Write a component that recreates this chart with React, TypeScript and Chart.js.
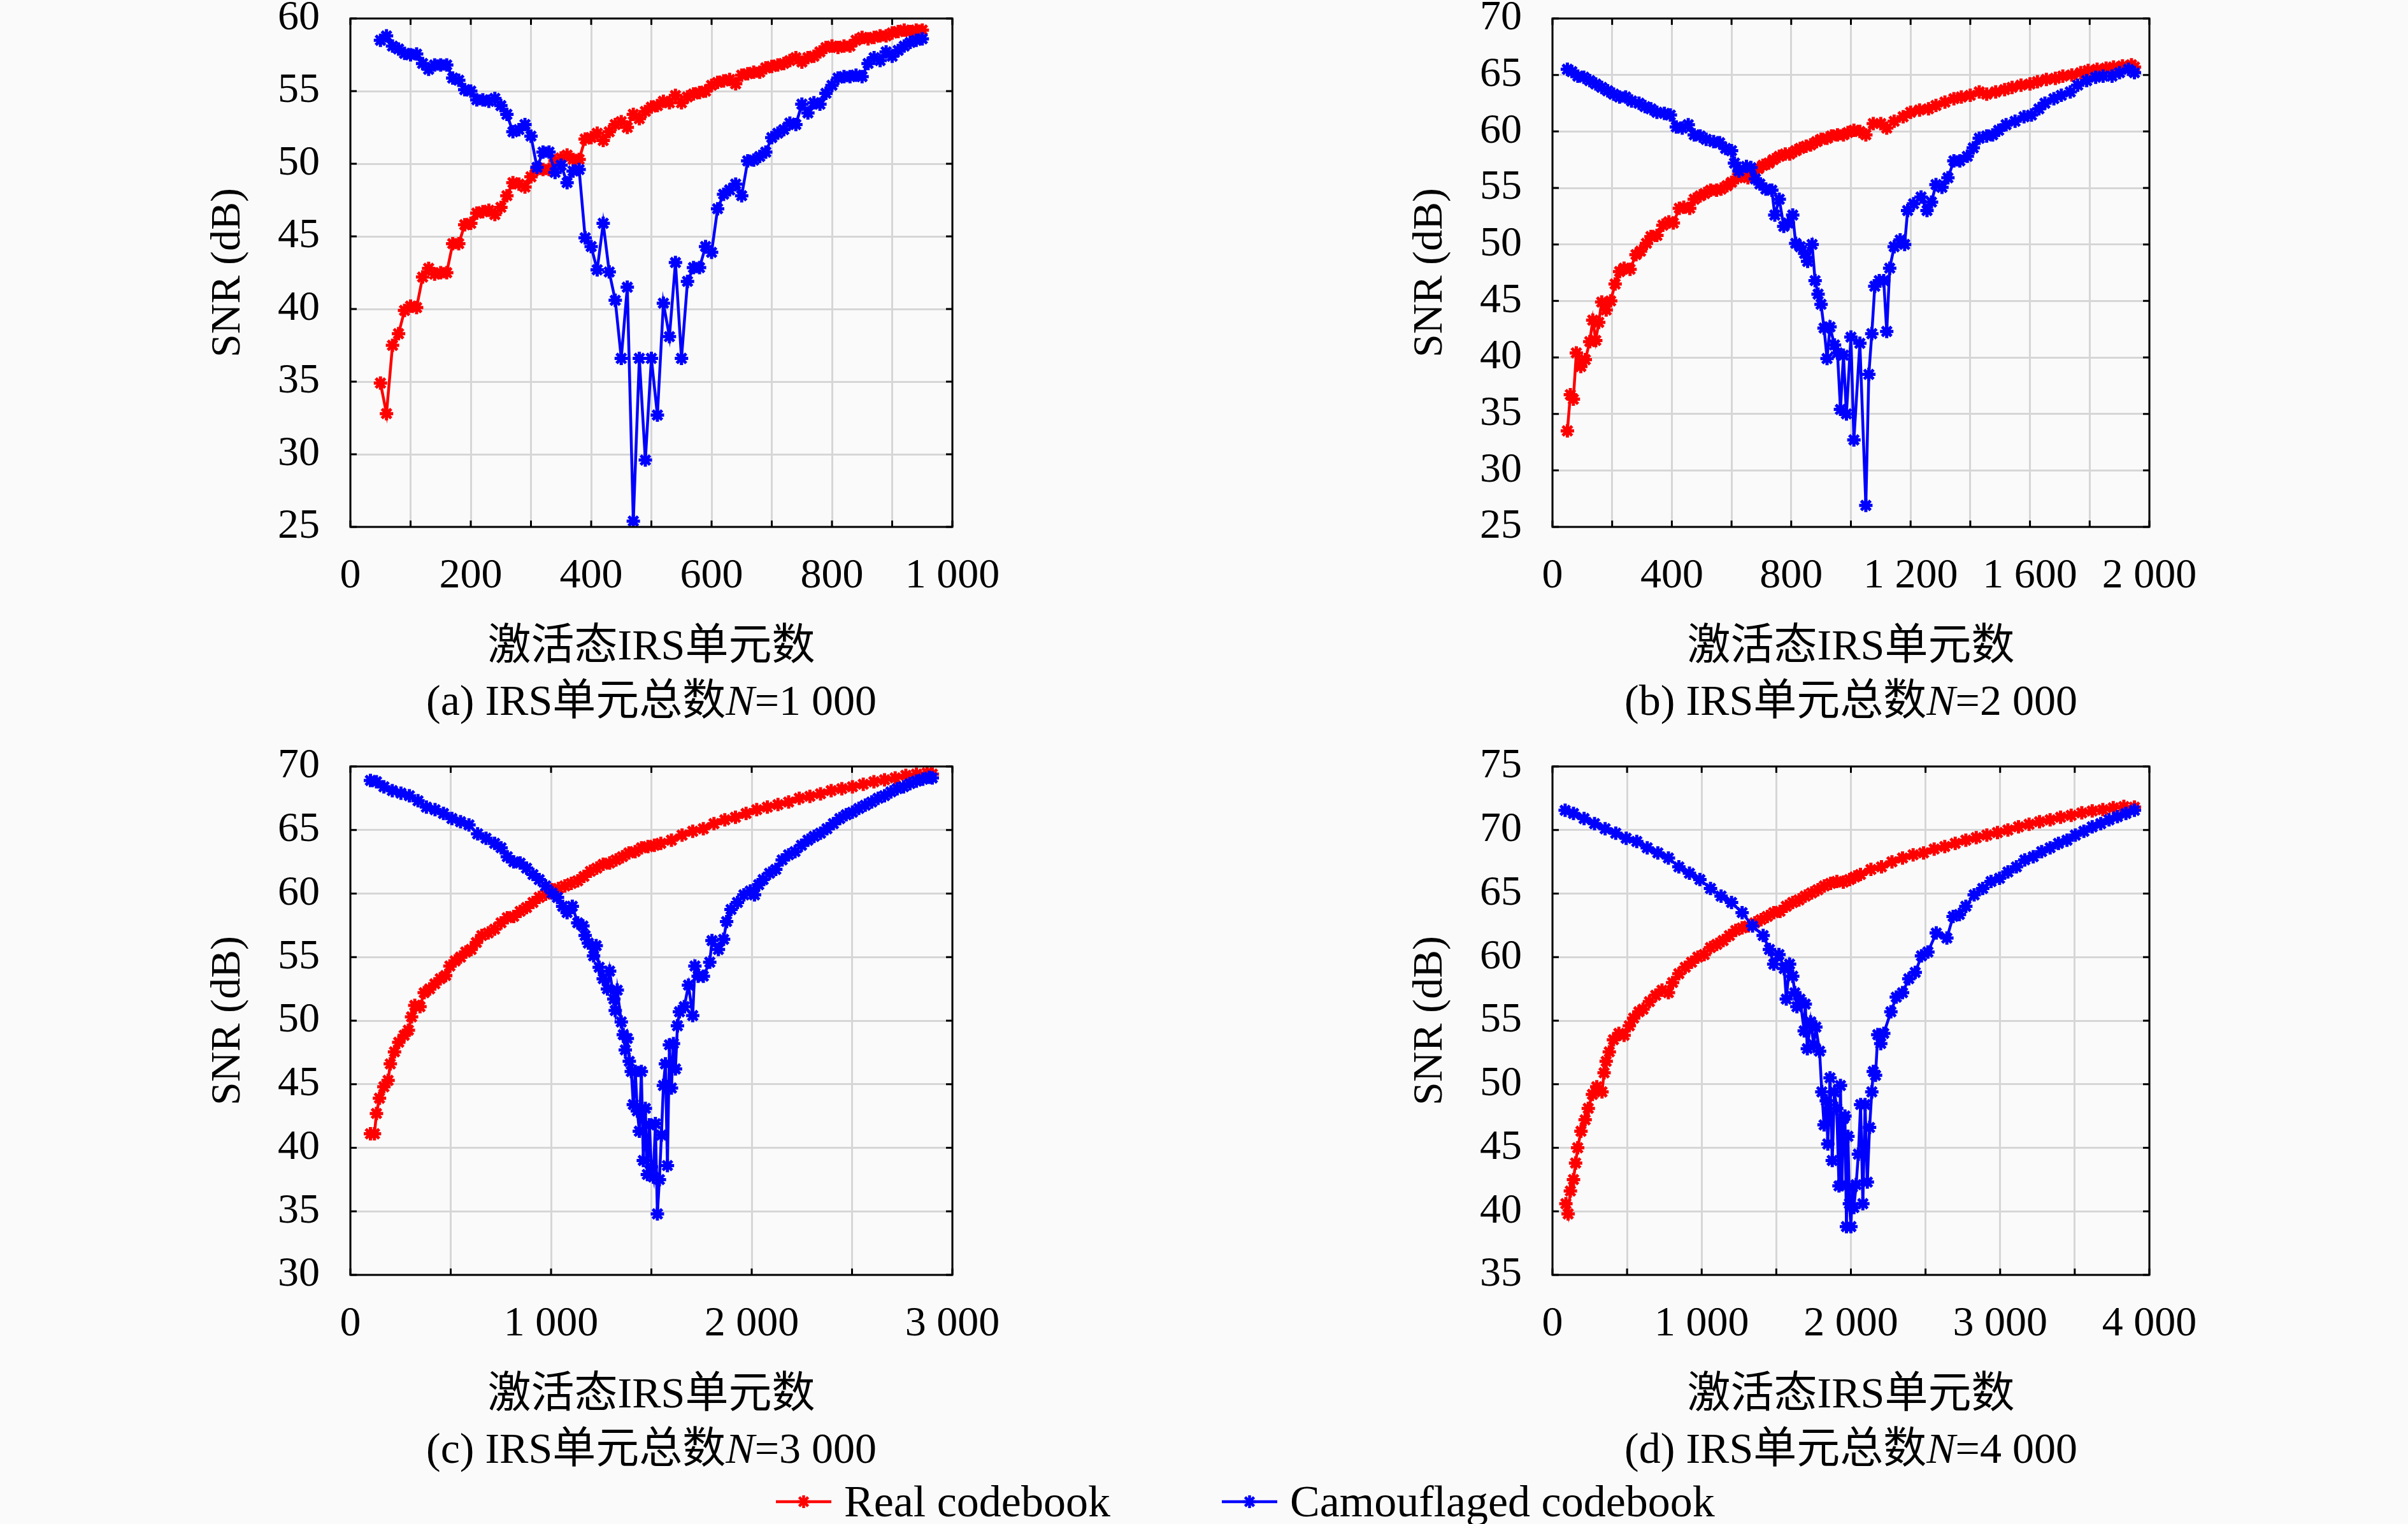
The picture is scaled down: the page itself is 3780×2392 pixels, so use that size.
import { useEffect, useRef } from 'react';
import { Chart, registerables } from 'chart.js';

Chart.register(...registerables);

const RED = '#ff0000';
const BLUE = '#0000ff';
const GRID = '#d6d6d6';
const SERIF = "'Liberation Serif', 'Noto Sans CJK SC', serif";

// layout of one panel (page pixels)
const Y_AXIS_W = 270;
const TOP_PAD = 88;
const RIGHT_PAD = 130;
const PLOT_H = 798;
const X_AXIS_H = 233;

// (a) N = 1 000
const aX = [50, 60, 70, 80, 90, 100, 110, 120, 130, 140, 150, 160, 170, 180, 190, 200, 210, 220, 230, 240,
  250, 260, 270, 280, 290, 300, 310, 320, 330, 340, 350, 360, 370, 380, 390, 400, 410, 420, 430, 440,
  450, 460, 470, 480, 490, 500, 510, 520, 530, 540, 550, 560, 570, 580, 590, 600, 610, 620, 630, 640,
  650, 660, 670, 680, 690, 700, 710, 720, 730, 740, 750, 760, 770, 780, 790, 800, 810, 820, 830, 840,
  850, 860, 870, 880, 890, 900, 910, 920, 930, 940, 950];
const aReal = [34.9, 32.8, 37.5, 38.3, 39.9, 40.2, 40.1, 42.2, 42.8, 42.4,
  42.5, 42.5, 44.5, 44.5, 45.8, 45.9, 46.6, 46.7, 46.8, 46.5,
  47.0, 47.8, 48.7, 48.6, 48.4, 49.1, 49.6, 49.6, 49.6, 50.2,
  50.4, 50.6, 50.3, 50.3, 51.7, 51.8, 52.1, 51.6, 52.2, 52.7,
  52.9, 52.5, 53.4, 53.1, 53.6, 53.9, 54.0, 54.3, 54.2, 54.7,
  54.2, 54.6, 54.8, 54.9, 55.0, 55.4, 55.6, 55.7, 55.8, 55.5,
  56.1, 56.2, 56.3, 56.3, 56.6, 56.7, 56.8, 56.9, 57.1, 57.3,
  57.0, 57.3, 57.4, 57.7, 58.0, 58.1, 58.0, 58.1, 58.1, 58.5,
  58.7, 58.6, 58.7, 58.8, 58.8, 59.0, 59.1, 59.2, 59.1, 59.2, 59.2];
const aCamo = [58.5, 58.8, 58.1, 57.9, 57.6, 57.5, 57.55, 56.9, 56.5, 56.8,
  56.8, 56.8, 55.9, 55.75, 55.1, 55.0, 54.4, 54.4, 54.3, 54.5,
  54.0, 53.4, 52.2, 52.35, 52.7, 51.9, 49.75, 50.8, 50.8, 49.4,
  49.9, 48.7, 49.5, 49.6, 44.9, 44.3, 42.7, 45.9, 42.55, 40.6,
  36.6, 41.5, 25.4, 36.6, 29.6, 36.6, 32.7, 40.4, 38.1, 43.2,
  36.6, 41.9, 42.85, 42.85, 44.3, 43.9, 46.9, 47.9, 48.2, 48.6,
  47.8, 50.2, 50.25, 50.5, 50.8, 51.8, 52.1, 52.35, 52.8, 52.7,
  54.1, 53.5, 54.2, 54.1, 54.85, 55.4, 55.9, 56.0, 56.0, 56.1,
  56.0, 56.9, 57.3, 57.1, 57.7, 57.4, 57.8, 58.1, 58.35, 58.5, 58.6];
const aLabels = ['0', '200', '400', '600', '800', '1 000'];

// (b) N = 2 000
const bRealX = [50, 60, 70, 80, 95, 110, 125, 135, 145, 155, 165, 180, 195, 210, 225, 240, 260, 280, 295, 315,
  330, 350, 370, 390, 405, 425, 440, 460, 475, 495, 510, 530, 550, 565, 585, 600, 620, 635, 655, 670,
  690, 705, 725, 740, 760, 780, 795, 815, 830, 850, 865, 885, 900, 920, 935, 955, 975, 990, 1010, 1030,
  1050, 1075, 1100, 1120, 1145, 1175, 1200, 1230, 1260, 1285, 1315, 1345, 1370, 1400, 1430, 1455, 1485, 1515, 1540, 1570,
  1600, 1625, 1655, 1685, 1710, 1740, 1770, 1795, 1825, 1855, 1880, 1910, 1940, 1950];
const bReal = [33.5, 36.7, 36.3, 40.4, 39.2, 39.8, 41.4, 43.3, 41.5, 43.1, 44.9, 44.2, 45.0, 46.5, 47.6, 47.9, 47.8, 49.1, 49.4, 50.1,
  50.7, 50.8, 51.7, 52.0, 51.9, 53.2, 53.3, 53.2, 54.0, 54.3, 54.5, 54.8, 54.8, 54.9, 55.2, 55.5, 55.9, 56.2, 55.9, 56.2,
  56.7, 57.0, 57.2, 57.5, 57.8, 58.0, 58.0, 58.3, 58.5, 58.7, 58.8, 59.1, 59.3, 59.4, 59.6, 59.7, 59.7, 59.9, 60.1, 60.0,
  59.7, 60.7, 60.7, 60.3, 60.9, 61.3, 61.7, 61.9, 62.0, 62.3, 62.6, 62.9, 63.05, 63.2, 63.5, 63.3, 63.5, 63.7, 63.9, 64.1,
  64.2, 64.4, 64.6, 64.7, 64.9, 65.0, 65.2, 65.4, 65.5, 65.6, 65.7, 65.8, 65.9, 65.7];
const bCamoX = [50, 65, 85, 105, 125, 145, 165, 185, 205, 225, 245, 265, 290, 310, 330, 350, 375, 395, 415, 435,
  455, 475, 495, 515, 540, 560, 580, 600, 610, 625, 650, 665, 680, 695, 715, 735, 745, 760, 775, 790,
  805, 815, 830, 845, 855, 870, 880, 890, 900, 910, 920, 930, 945, 955, 965, 975, 985, 1000, 1010, 1030,
  1050, 1060, 1070, 1080, 1095, 1110, 1120, 1130, 1145, 1165, 1180, 1190, 1210, 1235, 1255, 1270, 1285, 1305, 1325, 1345,
  1365, 1390, 1410, 1430, 1455, 1475, 1495, 1520, 1550, 1580, 1605, 1630, 1650, 1680, 1705, 1735, 1760, 1790, 1820, 1845,
  1875, 1900, 1930, 1950];
const bCamo = [65.5, 65.3, 64.9, 64.8, 64.5, 64.2, 63.9, 63.6, 63.3, 63.05, 63.05, 62.7, 62.5, 62.2, 62.0, 61.7, 61.6, 61.45, 60.4, 60.3,
  60.6, 59.7, 59.6, 59.3, 59.1, 59.0, 58.5, 58.3, 57.2, 56.5, 56.9, 56.8, 55.8, 55.35, 54.9, 54.8, 52.6, 54.0, 51.6, 51.9,
  52.6, 50.1, 49.8, 49.2, 48.5, 50.0, 46.8, 45.6, 44.7, 42.6, 39.9, 42.7, 41.1, 40.4, 35.4, 40.2, 35.0, 41.8, 32.7, 41.25,
  26.9, 38.5, 42.1, 46.3, 46.8, 46.8, 42.3, 47.9, 49.8, 50.4, 50.0, 53.0, 53.6, 54.2, 53.0, 53.75, 55.3, 55.05, 55.9, 57.4,
  57.4, 57.8, 58.55, 59.4, 59.6, 59.7, 60.1, 60.6, 60.9, 61.3, 61.45, 62.0, 62.5, 62.9, 63.2, 63.5, 64.1, 64.5, 64.8, 64.9,
  64.9, 65.2, 65.5, 65.2];
const bLabels = ['0', '400', '800', '1 200', '1 600', '2 000'];

// (c) N = 3 000
const cRealX = [100, 120, 130, 145, 167, 188, 199, 220, 241, 268, 289, 305, 321, 347, 368, 395, 421, 448, 475, 496,
  522, 549, 575, 602, 628, 655, 687, 719, 751, 782, 814, 846, 878, 910, 941, 973, 1005, 1037, 1069, 1101,
  1133, 1164, 1196, 1228, 1260, 1292, 1324, 1356, 1388, 1419, 1451, 1483, 1515, 1547, 1600, 1653, 1706, 1759, 1812, 1866,
  1919, 1972, 2025, 2078, 2131, 2184, 2237, 2290, 2343, 2396, 2449, 2502, 2556, 2609, 2662, 2715, 2768, 2821, 2874, 2900];
const cReal = [41.1, 41.1, 42.7, 43.9, 44.8, 45.3, 46.6, 47.55, 48.3, 48.85, 49.25, 50.3, 51.2, 51.1, 52.2, 52.5, 52.9, 53.3, 53.55, 54.3,
  54.7, 55.0, 55.4, 55.6, 56.15, 56.7, 56.9, 57.2, 57.7, 58.1, 58.2, 58.6, 58.9, 59.3, 59.7, 59.95, 60.3, 60.4, 60.6, 60.8,
  61.0, 61.35, 61.75, 62.0, 62.3, 62.4, 62.65, 62.9, 63.2, 63.3, 63.6, 63.7, 63.8, 63.95, 64.2, 64.6, 64.9, 65.1, 65.5, 65.8,
  66.0, 66.3, 66.6, 66.8, 67.0, 67.2, 67.5, 67.65, 67.85, 68.1, 68.25, 68.4, 68.6, 68.8, 68.95, 69.1, 69.3, 69.4, 69.5, 69.4];
const cCamoX = [100, 130, 167, 209, 252, 294, 337, 379, 422, 464, 506, 549, 591, 634, 676, 719, 751, 782, 814, 846,
  878, 910, 941, 973, 1005, 1032, 1058, 1080, 1106, 1133, 1159, 1170, 1186, 1212, 1225, 1240, 1260, 1281, 1292, 1313,
  1320, 1330, 1350, 1360, 1370, 1380, 1390, 1400, 1410, 1420, 1430, 1440, 1450, 1460, 1470, 1480, 1490, 1500, 1510, 1520,
  1530, 1540, 1550, 1560, 1570, 1580, 1590, 1600, 1610, 1620, 1630, 1640, 1664, 1685, 1706, 1717, 1733, 1759, 1791, 1802,
  1834, 1860, 1875, 1897, 1929, 1961, 1993, 2014, 2035, 2057, 2089, 2120, 2152, 2184, 2216, 2248, 2280, 2311, 2343, 2375,
  2407, 2439, 2471, 2502, 2534, 2566, 2598, 2630, 2662, 2694, 2725, 2757, 2789, 2821, 2853, 2885, 2900];
const cCamo = [68.9, 68.8, 68.4, 68.1, 67.9, 67.7, 67.3, 66.8, 66.6, 66.3, 65.9, 65.65, 65.4, 64.7, 64.35, 63.95, 63.6, 62.9, 62.5, 62.4,
  62.0, 61.5, 61.1, 60.6, 60.05, 59.7, 59.0, 58.5, 59.0, 57.7, 57.45, 56.7, 56.1, 55.1, 55.9, 54.2, 53.3, 52.5, 53.9, 51.7,
  50.8, 52.4, 49.9, 48.9, 47.7, 48.6, 46.8, 46.0, 43.4, 46.0, 42.9, 41.3, 46.0, 39.0, 43.1, 37.9, 41.8, 38.5, 37.7, 41.9,
  34.8, 37.5, 41.0, 44.9, 46.6, 38.6, 48.1, 44.7, 48.2, 46.2, 49.6, 50.7, 51.1, 52.8, 50.4, 54.3, 53.5, 53.5, 54.6, 56.3,
  55.6, 56.4, 57.8, 58.75, 59.3, 59.9, 60.2, 59.9, 60.7, 61.1, 61.6, 61.9, 62.65, 63.05, 63.3, 63.8, 64.2, 64.5, 64.75, 65.1,
  65.5, 65.9, 66.2, 66.4, 66.7, 66.95, 67.2, 67.5, 67.7, 68.0, 68.25, 68.4, 68.65, 68.85, 69.0, 69.15, 69.1];
const cLabels = ['0', '1 000', '2 000', '3 000'];

// (d) N = 4 000
const dRealX = [90, 105, 120, 141, 155, 169, 191, 219, 240, 268, 297, 332, 346, 360, 381, 409, 445, 480, 515, 544,
  579, 607, 650, 692, 734, 777, 805, 847, 890, 932, 974, 1017, 1059, 1101, 1144, 1186, 1228, 1271, 1313, 1356,
  1398, 1440, 1483, 1525, 1567, 1610, 1652, 1694, 1737, 1779, 1822, 1864, 1906, 1949, 1991, 2026, 2064, 2134, 2205, 2275,
  2346, 2417, 2487, 2558, 2629, 2699, 2770, 2840, 2911, 2982, 3052, 3123, 3194, 3264, 3335, 3405, 3476, 3547, 3617, 3688,
  3758, 3829, 3900];
const dReal = [40.6, 39.8, 41.6, 42.5, 43.8, 45.0, 46.3, 47.2, 48.1, 49.2, 49.8, 49.4, 50.9, 51.8, 52.55, 53.5, 54.0, 53.85, 54.6, 55.2,
  55.7, 55.9, 56.5, 57.0, 57.4, 57.2, 58.0, 58.7, 59.2, 59.6, 60.0, 60.2, 60.75, 61.0, 61.3, 61.7, 62.1, 62.3, 62.45, 62.7,
  62.95, 63.2, 63.5, 63.6, 64.0, 64.3, 64.5, 64.8, 65.05, 65.3, 65.6, 65.8, 65.95, 65.9, 66.1, 66.3, 66.5, 66.9, 67.1, 67.5,
  67.8, 68.05, 68.2, 68.5, 68.7, 68.95, 69.2, 69.4, 69.6, 69.8, 70.0, 70.25, 70.45, 70.65, 70.8, 71.0, 71.15, 71.35, 71.5, 71.6,
  71.75, 71.85, 71.8];
const dCamoX = [85, 141, 212, 282, 353, 424, 494, 565, 635, 706, 777, 847, 918, 988, 1059, 1130, 1200, 1271, 1341, 1412,
  1454, 1483, 1518, 1553, 1567, 1589, 1610, 1624, 1638, 1659, 1687, 1694, 1708, 1730, 1751, 1765, 1790, 1805, 1820, 1835,
  1845, 1860, 1875, 1890, 1905, 1920, 1930, 1940, 1950, 1960, 1970, 1980, 1990, 2000, 2010, 2020, 2035, 2050, 2065, 2080,
  2095, 2110, 2125, 2140, 2150, 2165, 2180, 2200, 2220, 2268, 2304, 2346, 2388, 2431, 2473, 2516, 2572, 2643, 2685, 2727,
  2770, 2826, 2883, 2939, 2996, 3052, 3109, 3165, 3222, 3278, 3335, 3391, 3448, 3504, 3561, 3617, 3674, 3730, 3786, 3843,
  3900];
const dCamo = [71.55, 71.3, 70.9, 70.5, 70.1, 69.75, 69.35, 69.1, 68.6, 68.2, 67.8, 67.1, 66.6, 66.1, 65.4, 64.8, 64.3, 63.5, 62.45, 61.7,
  60.6, 59.45, 60.2, 59.1, 56.7, 59.45, 58.5, 57.2, 56.1, 56.7, 54.2, 56.3, 52.8, 54.9, 53.1, 54.5, 52.6, 49.4, 46.8, 48.7,
  45.3, 50.5, 44.0, 49.4, 48.1, 42.0, 49.9, 42.1, 47.3, 47.5, 38.8, 45.9, 40.6, 38.8, 41.9, 40.3, 42.1, 44.5, 48.4, 40.6,
  48.4, 42.3, 46.6, 49.4, 51.0, 50.7, 53.9, 53.2, 54.0, 55.7, 56.85, 57.2, 58.3, 58.8, 60.1, 60.4, 61.9, 61.5, 63.2, 63.35,
  64.0, 64.9, 65.4, 65.95, 66.2, 66.7, 67.1, 67.65, 67.9, 68.3, 68.6, 68.95, 69.2, 69.6, 69.9, 70.25, 70.5, 70.8, 71.05, 71.3,
  71.55];
const dLabels = ['0', '1 000', '2 000', '3 000', '4 000'];

// box round the plot plus the small inward ticks
const framePlugin = {
  id: 'frame',
  afterDraw(chart: any) {
    const { ctx, chartArea: a, scales } = chart;
    const len = 10;
    ctx.save();
    ctx.strokeStyle = '#000';
    ctx.lineWidth = 3;
    ctx.beginPath();
    scales.x.ticks.forEach((t: any) => {
      const px = scales.x.getPixelForValue(t.value);
      ctx.moveTo(px, a.bottom);
      ctx.lineTo(px, a.bottom - len);
      ctx.moveTo(px, a.top);
      ctx.lineTo(px, a.top + len);
    });
    scales.y.ticks.forEach((t: any) => {
      const py = scales.y.getPixelForValue(t.value);
      ctx.moveTo(a.left, py);
      ctx.lineTo(a.left + len, py);
      ctx.moveTo(a.right, py);
      ctx.lineTo(a.right - len, py);
    });
    ctx.stroke();
    ctx.strokeRect(a.left, a.top, a.right - a.left, a.bottom - a.top);
    ctx.restore();
  },
};

function series(label: string, color: string, xs: number[], ys: number[]) {
  return {
    label,
    data: xs.map((x, i) => ({ x, y: ys[i] })),
    borderColor: color,
    backgroundColor: color,
    borderWidth: 4.5,
    pointStyle: 'star' as const,
    pointRadius: 10.5,
    pointBorderWidth: 5,
    pointBorderColor: color,
    pointBackgroundColor: color,
    tension: 0,
    fill: false,
  };
}

interface PanelProps {
  plotLeft: number;
  plotTop: number;
  plotW: number;
  xMax: number;
  xStep: number;
  labelStep: number;
  labels: string[];
  yMin: number;
  yMax: number;
  realX: number[];
  realY: number[];
  camoX: number[];
  camoY: number[];
  tag: string;
  total: string;
}

function Panel(p: PanelProps) {
  const canvasRef = useRef<HTMLCanvasElement>(null);
  const width = Y_AXIS_W + p.plotW + RIGHT_PAD;
  const height = TOP_PAD + PLOT_H + X_AXIS_H;

  useEffect(() => {
    if (!canvasRef.current) return;
    const tickFont = { family: SERIF, size: 66 };
    const chart = new Chart(canvasRef.current, {
      type: 'line',
      data: {
        datasets: [
          series('Camouflaged codebook', BLUE, p.camoX, p.camoY),
          series('Real codebook', RED, p.realX, p.realY),
        ],
      },
      options: {
        responsive: false,
        animation: false,
        devicePixelRatio: 1,
        events: [],
        layout: { padding: { left: 0, top: TOP_PAD, right: RIGHT_PAD, bottom: 0 } },
        plugins: { legend: { display: false }, tooltip: { enabled: false } },
        scales: {
          x: {
            type: 'linear',
            min: 0,
            max: p.xMax,
            ticks: {
              stepSize: p.xStep,
              autoSkip: false,
              maxRotation: 0,
              minRotation: 0,
              padding: 38,
              color: '#000',
              font: tickFont,
              callback: (v: any) => {
                const k = Number(v) / p.labelStep;
                return Number.isInteger(k) ? p.labels[k] : '';
              },
            },
            grid: { color: GRID, lineWidth: 3, drawTicks: false },
            border: { display: false },
            title: {
              display: true,
              text: '激活态IRS单元数',
              color: '#000',
              font: { family: SERIF, size: 68 },
              padding: { top: 0, bottom: 2 },
            },
            afterFit: (s: any) => {
              s.height = X_AXIS_H;
            },
          },
          y: {
            min: p.yMin,
            max: p.yMax,
            ticks: { stepSize: 5, padding: 48, color: '#000', font: tickFont },
            grid: { color: GRID, lineWidth: 3, drawTicks: false },
            border: { display: false },
            title: {
              display: true,
              text: 'SNR (dB)',
              color: '#000',
              font: { family: SERIF, size: 66 },
              padding: { top: 39, bottom: 0 },
            },
            afterFit: (s: any) => {
              s.width = Y_AXIS_W;
            },
          },
        },
      },
      plugins: [framePlugin],
    });
    return () => chart.destroy();
  }, []);

  return (
    <>
      <canvas
        ref={canvasRef}
        width={width}
        height={height}
        style={{
          position: 'absolute',
          left: p.plotLeft - Y_AXIS_W,
          top: p.plotTop - TOP_PAD,
          width,
          height,
        }}
      />
      <div
        style={{
          position: 'absolute',
          left: p.plotLeft,
          top: p.plotTop + PLOT_H + 232,
          width: p.plotW,
          textAlign: 'center',
          fontFamily: SERIF,
          fontSize: 68,
          lineHeight: '80px',
          color: '#000',
          whiteSpace: 'nowrap',
        }}
      >
        ({p.tag}) IRS单元总数<i>N</i>={p.total}
      </div>
    </>
  );
}

function LegendMark({ color }: { color: string }) {
  const r = 10;
  const d = r * 0.707;
  const cx = 43.5;
  const cy = 15;
  return (
    <svg width={87} height={30} style={{ display: 'block' }}>
      <line x1={0} y1={cy} x2={87} y2={cy} stroke={color} strokeWidth={4.5} />
      <g stroke={color} strokeWidth={4.5}>
        <line x1={cx} y1={cy - r} x2={cx} y2={cy + r} />
        <line x1={cx - r} y1={cy} x2={cx + r} y2={cy} />
        <line x1={cx - d} y1={cy - d} x2={cx + d} y2={cy + d} />
        <line x1={cx - d} y1={cy + d} x2={cx + d} y2={cy - d} />
      </g>
    </svg>
  );
}

function LegendItem({ left, color, text }: { left: number; color: string; text: string }) {
  return (
    <div
      style={{
        position: 'absolute',
        left,
        top: 2315,
        height: 84,
        display: 'flex',
        alignItems: 'center',
        fontFamily: SERIF,
        fontSize: 70,
        color: '#000',
        whiteSpace: 'nowrap',
      }}
    >
      <LegendMark color={color} />
      <span style={{ marginLeft: 20 }}>{text}</span>
    </div>
  );
}

export default function App() {
  return (
    <div
      style={{
        position: 'fixed',
        left: 0,
        top: 0,
        width: 3780,
        height: 2392,
        overflow: 'hidden',
        background: '#fafafa',
      }}
    >
      <Panel plotLeft={550} plotTop={29} plotW={945} xMax={1000} xStep={100} labelStep={200} labels={aLabels}
        yMin={25} yMax={60} realX={aX} realY={aReal} camoX={aX} camoY={aCamo} tag="a" total="1 000" />
      <Panel plotLeft={2437} plotTop={29} plotW={937} xMax={2000} xStep={200} labelStep={400} labels={bLabels}
        yMin={25} yMax={70} realX={bRealX} realY={bReal} camoX={bCamoX} camoY={bCamo} tag="b" total="2 000" />
      <Panel plotLeft={550} plotTop={1203} plotW={945} xMax={3000} xStep={500} labelStep={1000} labels={cLabels}
        yMin={30} yMax={70} realX={cRealX} realY={cReal} camoX={cCamoX} camoY={cCamo} tag="c" total="3 000" />
      <Panel plotLeft={2437} plotTop={1203} plotW={937} xMax={4000} xStep={500} labelStep={1000} labels={dLabels}
        yMin={35} yMax={75} realX={dRealX} realY={dReal} camoX={dCamoX} camoY={dCamo} tag="d" total="4 000" />
      <LegendItem left={1218} color={RED} text="Real codebook" />
      <LegendItem left={1918} color={BLUE} text="Camouflaged codebook" />
    </div>
  );
}
